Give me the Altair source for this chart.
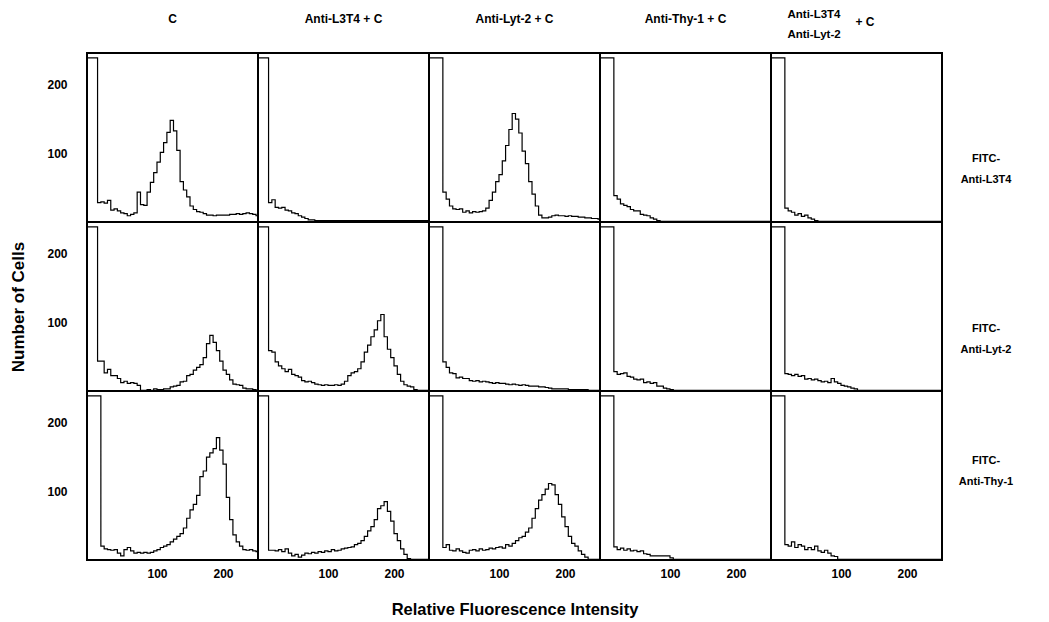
import altair as alt
import pandas as pd

# bin start of each histogram channel; the first entry is the off-scale first bar
bins = [-10, 10, 15, 20, 25, 30, 35, 40, 45, 50, 55, 60, 65, 70, 75, 80,
        85, 90, 95, 100, 105, 110, 115, 120, 125, 130, 135, 140, 145, 150, 155, 160, 165, 170, 175,
        180, 185, 190, 195, 200, 205, 210, 215, 220, 225, 230, 235, 240, 245, 250]
x_end = 255

col_titles = ["C", "Anti-L3T4 + C", "Anti-Lyt-2 + C", "Anti-Thy-1 + C", "Anti-L3T4\nAnti-Lyt-2"]
col5_suffix = "+ C"
row_titles = ["FITC-\nAnti-L3T4", "FITC-\nAnti-Lyt-2", "FITC-\nAnti-Thy-1"]

# Row 1: FITC-Anti-L3T4
r1c1 = [238,
        30, 31, 29, 33, 19, 21, 18, 15, 14, 11, 13, 15, 45, 27, 26,
        45, 59, 73, 88, 102, 116, 131, 148, 133, 105, 60, 48, 38, 25, 20, 17, 16, 14, 12,
        12, 11, 12, 12, 12, 12, 13, 13, 14, 13, 14, 15, 14, 13, 11]
r1c2 = [238,
        30, 34, 23, 22, 23, 19, 18, 15, 14, 11, 9, 7, 5, 5, 4,
        4, 4, 4, 4, 4, 4, 4, 4, 4, 4, 4, 4, 4, 4, 4, 4, 4, 4, 4,
        4, 4, 4, 4, 4, 4, 4, 4, 4, 4, 4, 4, 4, 4, 4]
r1c3 = [238,
        238, 45, 35, 25, 21, 20, 21, 16, 18, 15, 17, 16, 17, 18, 22,
        33, 45, 60, 70, 90, 112, 135, 158, 150, 130, 104, 86, 60, 42, 25, 12, 8, 8, 9,
        11, 12, 11, 11, 10, 11, 10, 10, 9, 9, 8, 8, 7, 7, 6]
r1c4 = [238,
        238, 40, 35, 28, 26, 24, 20, 18, 18, 13, 12, 11, 8, 6, 4,
        3, 3, 3, 3, 3, 3, 3, 3, 3, 3, 3, 3, 3, 3, 3, 3, 3, 3, 3,
        3, 3, 3, 3, 3, 3, 3, 3, 3, 3, 3, 3, 3, 3, 3]
r1c5 = [238,
        238, 22, 18, 16, 12, 14, 10, 12, 8, 6, 4, 3, 3, 3, 3,
        3, 3, 3, 3, 3, 3, 3, 3, 3, 3, 3, 3, 3, 3, 3, 3, 3, 3, 3,
        3, 3, 3, 3, 3, 3, 3, 3, 3, 3, 3, 3, 3, 3, 3]

# Row 2: FITC-Anti-Lyt-2
r2c1 = [238,
        45, 45, 28, 33, 24, 24, 20, 14, 16, 13, 14, 13, 10, 3, 3,
        4, 3, 5, 4, 4, 5, 5, 8, 9, 10, 15, 16, 24, 26, 32, 36, 40, 50, 70,
        82, 72, 60, 45, 32, 26, 18, 12, 11, 10, 6, 5, 5, 4, 3]
r2c2 = [238,
        60, 58, 44, 38, 34, 30, 33, 26, 24, 22, 17, 15, 16, 14, 12,
        11, 10, 11, 10, 10, 11, 10, 12, 16, 24, 28, 30, 34, 44, 58, 68, 80, 90, 103,
        112, 80, 62, 50, 38, 26, 16, 11, 9, 8, 4, 3, 3, 3, 3]
r2c3 = [238,
        238, 44, 36, 28, 27, 21, 22, 20, 20, 17, 16, 17, 15, 16, 15,
        14, 13, 14, 13, 13, 12, 11, 12, 11, 10, 11, 10, 9, 9, 9, 8, 8, 7, 6,
        5, 5, 5, 5, 5, 4, 4, 4, 4, 4, 4, 3, 3, 3, 3]
r2c4 = [238,
        238, 30, 26, 27, 28, 23, 22, 19, 18, 19, 14, 15, 13, 14, 9,
        9, 6, 5, 4, 3, 3, 3, 3, 3, 3, 3, 3, 3, 3, 3, 3, 3, 3, 3,
        3, 3, 3, 3, 3, 3, 3, 3, 3, 3, 3, 3, 3, 3, 3]
r2c5 = [238,
        238, 27, 26, 24, 26, 23, 24, 19, 20, 18, 19, 17, 15, 16, 14,
        20, 15, 13, 10, 9, 8, 6, 5, 3, 3, 3, 3, 3, 3, 3, 3, 3, 3, 3,
        3, 3, 3, 3, 3, 3, 3, 3, 3, 3, 3, 3, 3, 3, 3]

# Row 3: FITC-Anti-Thy-1
r3c1 = [238,
        238, 22, 18, 17, 16, 17, 12, 8, 17, 20, 15, 12, 13, 12, 13,
        12, 13, 15, 17, 20, 22, 24, 28, 32, 36, 40, 48, 62, 74, 82, 95, 122, 130, 150,
        156, 162, 178, 160, 140, 92, 60, 38, 28, 22, 17, 16, 17, 15, 14]
r3c2 = [238,
        16, 16, 15, 17, 14, 18, 12, 8, 10, 6, 9, 12, 11, 13, 12,
        14, 13, 15, 14, 17, 15, 16, 18, 19, 20, 21, 24, 26, 30, 36, 44, 50, 60, 76,
        80, 86, 72, 58, 40, 30, 18, 10, 4, 3, 3, 3, 3, 3, 3]
r3c3 = [238,
        238, 20, 24, 16, 15, 18, 15, 13, 12, 16, 17, 15, 18, 16, 17,
        19, 18, 20, 21, 19, 24, 22, 26, 30, 34, 36, 42, 48, 62, 76, 88, 96, 104, 112,
        110, 96, 82, 64, 50, 36, 26, 22, 15, 10, 6, 3, 3, 3, 3]
r3c4 = [238,
        238, 21, 17, 19, 16, 18, 15, 16, 14, 15, 11, 10, 8, 8, 8,
        8, 8, 8, 5, 3, 3, 3, 3, 3, 3, 3, 3, 3, 3, 3, 3, 3, 3, 3,
        3, 3, 3, 3, 3, 3, 3, 3, 3, 3, 3, 3, 3, 3, 3]
r3c5 = [238,
        238, 24, 22, 28, 20, 24, 22, 17, 20, 17, 22, 15, 13, 16, 12,
        8, 7, 3, 3, 3, 3, 3, 3, 3, 3, 3, 3, 3, 3, 3, 3, 3, 3, 3,
        3, 3, 3, 3, 3, 3, 3, 3, 3, 3, 3, 3, 3, 3, 3]

counts = [[r1c1, r1c2, r1c3, r1c4, r1c5],
          [r2c1, r2c2, r2c3, r2c4, r2c5],
          [r3c1, r3c2, r3c3, r3c4, r3c5]]

W, H = 171, 169
FONT = "Liberation Sans"
row_label_top = [100, 101, 64]

xscale = alt.Scale(domain=[-6, 253], nice=False, zero=False)
yscale = alt.Scale(domain=[2, 245], nice=False, zero=False)


def panel(i, j):
    vals = counts[i][j]
    df = pd.DataFrame({"x": bins + [x_end], "y": vals + [vals[-1]]})
    if i == 2:
        xaxis = alt.Axis(values=[100, 200], labelPadding=8, grid=False, ticks=False, domain=False,
                         title="Relative Fluorescence Intensity" if j == 2 else None,
                         titleFontSize=16.5, titlePadding=22)
    else:
        xaxis = None
    if j == 0:
        yaxis = alt.Axis(values=[100, 200], labelPadding=20, grid=False, ticks=False, domain=False,
                         title="Number of Cells" if i == 1 else None,
                         titleFontSize=17, titlePadding=19)
    else:
        yaxis = None
    line = alt.Chart(df).mark_line(
        interpolate="step-after", color="black", strokeWidth=1.2, clip=True
    ).encode(
        x=alt.X("x:Q", scale=xscale, axis=xaxis),
        y=alt.Y("y:Q", scale=yscale, axis=yaxis),
    )
    layers = [line]
    if i == 0:
        tdf = pd.DataFrame({"t": [col_titles[j]]})
        if j < 4:
            layers.append(alt.Chart(tdf).mark_text(
                font=FONT, fontWeight="bold", fontSize=12, align="center", baseline="middle"
            ).encode(text="t:N", x=alt.value(W / 2), y=alt.value(-34)))
        else:
            layers.append(alt.Chart(tdf).mark_text(
                font=FONT, fontWeight="bold", fontSize=11.5, align="center", baseline="top",
                lineBreak="\n", lineHeight=20
            ).encode(text="t:N", x=alt.value(43), y=alt.value(-44)))
            sdf = pd.DataFrame({"t": [col5_suffix]})
            layers.append(alt.Chart(sdf).mark_text(
                font=FONT, fontWeight="bold", fontSize=12, align="center", baseline="middle"
            ).encode(text="t:N", x=alt.value(94), y=alt.value(-31)))
    if j == 4:
        rdf = pd.DataFrame({"t": [row_titles[i]]})
        layers.append(alt.Chart(rdf).mark_text(
            font=FONT, fontWeight="bold", fontSize=11, align="center", baseline="top",
            lineBreak="\n", lineHeight=21
        ).encode(text="t:N", x=alt.value(W + 44), y=alt.value(row_label_top[i])))
    return alt.layer(*layers).properties(width=W, height=H)


panels = [panel(i, j) for i in range(3) for j in range(5)]

chart = alt.concat(*panels, columns=5, spacing=0, bounds="flush").properties(
    padding={"left": 0, "top": 0, "right": 0, "bottom": 0},
    background="white",
).configure_view(
    stroke="black", strokeWidth=2
).configure_axis(
    domain=False, ticks=False, grid=False,
    labelFont=FONT, labelFontWeight="bold", labelFontSize=12, labelColor="black",
    titleFont=FONT, titleFontWeight="bold", titleColor="black",
)

chart.save("out.html", embed_options={"renderer": "svg", "actions": False})
